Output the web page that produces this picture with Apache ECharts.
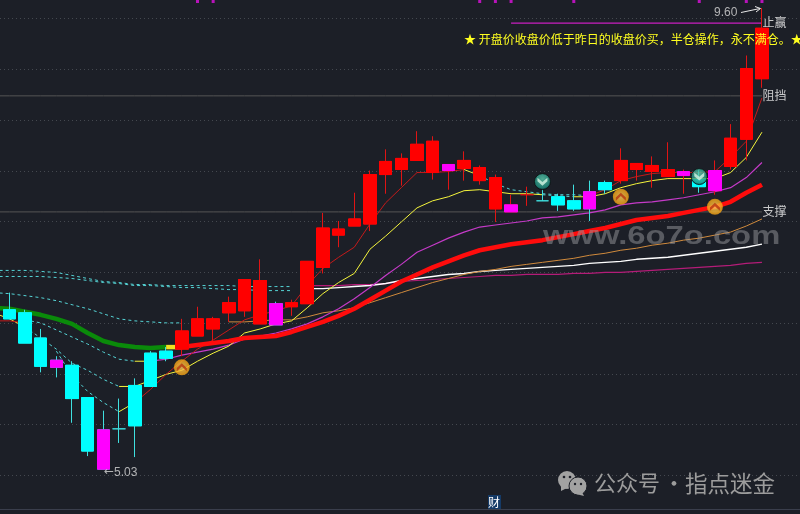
<!DOCTYPE html>
<html><head><meta charset="utf-8">
<style>html,body{margin:0;padding:0;background:#1c1f27;overflow:hidden}#c{width:800px;height:514px}</style>
<script src="https://cdn.jsdelivr.net/npm/echarts@6/dist/echarts.min.js"></script>
</head><body><div id="c"></div>
<script>
// index 0 is a blank lead-in day off the left edge
const pad = n => Array(n).fill(null);
const days = Array.from({length:50},(_,i)=>'D'+i);
const kinds = ['','c','c','c','m','c','c','m','c','c','c','c','r','r','r','r','r','r','m','r','r','r','r','r','r','r','r','r','r','m','r','r','r','m','r','c','c','c','m','c','r','r','r','r','m','c','m','r','r','r'];
const opens  = [null,6.61,6.58,6.33,6.11,6.06,5.74,5.42,5.43,5.86,6.18,6.20,6.22,6.35,6.42,6.58,6.60,6.47,6.67,6.64,6.67,7.03,7.35,7.44,7.46,7.95,8.00,8.09,7.97,8.05,8.01,7.89,7.61,7.65,7.75,7.69,7.73,7.69,7.78,7.87,7.89,8.00,7.98,7.93,7.98,7.90,7.99,8.03,8.30,8.90];
const closes = [null,6.52,6.28,6.05,6.04,5.73,5.21,5.03,5.43,5.46,5.85,6.13,6.40,6.52,6.52,6.68,6.91,6.90,6.46,6.68,7.09,7.42,7.41,7.51,7.95,8.08,8.11,8.25,8.28,7.99,8.09,8.02,7.92,7.58,7.75,7.69,7.65,7.61,7.61,7.80,8.09,8.06,8.04,8.00,7.94,7.83,7.79,8.31,9.00,9.40];
const lows   = [null,6.52,6.28,5.99,5.94,5.49,5.16,5.03,5.29,5.15,5.85,6.10,6.15,6.35,6.30,6.49,6.54,6.47,6.46,6.55,6.67,6.97,7.23,7.44,7.39,7.76,7.84,8.09,7.90,7.80,7.89,7.85,7.48,7.58,7.64,7.69,7.59,7.59,7.49,7.76,7.86,7.89,7.82,7.93,7.76,7.77,7.75,8.00,8.09,8.81];
const highs  = [null,6.78,6.61,6.42,6.15,6.10,5.74,5.61,5.73,5.93,6.20,6.24,6.52,6.64,6.54,6.74,6.91,7.11,6.69,6.71,7.09,7.57,7.49,7.77,7.99,8.20,8.16,8.38,8.33,8.05,8.18,8.04,7.95,7.75,7.83,7.80,7.76,7.85,7.89,7.89,8.21,8.06,8.13,8.27,8.00,8.00,8.09,8.45,9.13,9.60];
const cyanWickDays = [4,7,18,38];

const ma5Start = [6.50,6.50,6.48];
const ma5FallA = [...pad(4),6.20,5.96,5.80,5.69,5.60];
const ma5TurnA = [...pad(8),5.60,5.69];
const ma5RiseA = [...pad(9),5.69,5.82,5.97,6.10,6.22,6.31,6.41,6.51,6.56,6.60,6.65,6.85,7.02,7.13,7.23,7.46,7.67,7.82,7.97,7.97,7.98,8.00];
const ma5TurnB = [...pad(30),8.00,7.94];
const ma5FallB = [...pad(31),7.94,7.86,7.80,7.78,7.76,7.75,7.75,7.74];
const ma5RiseB = [...pad(38),7.74,7.80,7.89,7.93,7.96,7.97,7.97,7.97,7.98,8.12,8.28,8.71];

const ma10Start = [6.58,6.52,6.44];
const ma10FallA = [...pad(2),6.44,6.33,6.22,6.08,6.01,5.92,5.85];
const ma10RiseA = [...pad(8),5.85,5.85,5.91,5.97,6.01,6.10,6.18,6.25,6.38,6.42,6.47,6.50,6.63,6.77,6.88,6.97,7.21,7.34,7.48,7.62,7.69,7.73,7.79,7.80,7.78,7.76,7.76,7.75];
const ma10FallB = [...pad(35),7.75,7.74,7.73];
const ma10RiseB = [...pad(37),7.73,7.73,7.76,7.82,7.86,7.89,7.91,7.91,7.91,7.91,7.97,8.12,8.37];

const ma20Fall = [...pad(2),6.51,6.48,6.41,6.34,6.27,6.19,6.12,6.10];
const ma20Flat = [...pad(9),6.10,6.10];
const ma20Rise = [...pad(10),6.10,6.12,6.16,6.19,6.22,6.26,6.32,6.35,6.38,6.42,6.47,6.54,6.62,6.72,6.83,6.95,7.06,7.18,7.25,7.32,7.38,7.43,7.45,7.47,7.49,7.52,7.53,7.55,7.57,7.60,7.65,7.67,7.68,7.70,7.72,7.75,7.78,7.82,7.92,8.07];

const ma30Fall = [6.63,6.62,6.59,6.56,6.52,6.47,6.38,6.30,6.26,6.24,6.23,6.24];
const ma30Flat = [...pad(11),6.24,6.24];
const ma30Rise = [...pad(12),6.24,6.26,6.28,6.30,6.33,6.34,6.35,6.39,6.44,6.49,6.55,6.62,6.71,6.80,6.89,6.96,7.03,7.09,7.15,7.20,7.23,7.26,7.28,7.30,7.33,7.36,7.39,7.42,7.46,7.50,7.52,7.54,7.57,7.60,7.63,7.68,7.77,7.85];

const ma60Fall = [6.78,6.77,6.75,6.73,6.70,6.66,6.62,6.57,6.52,6.50,6.49,6.48,6.48];
const ma60Rise = [...pad(15),6.49,6.49,6.50,6.51,6.51,6.54,6.58,6.60,6.63,6.68,6.73,6.78,6.83,6.88,6.92,6.96,6.99,7.01,7.04,7.06,7.08,7.10,7.12,7.15,7.17,7.20,7.22,7.25,7.27,7.30,7.32,7.35,7.38,7.44,7.51];

const ma120Fall = [6.94,6.94,6.94,6.94,6.93,6.92,6.90,6.88,6.87,6.85,6.85,6.84,6.83,6.83,6.82,6.81,6.81,6.80,6.80,6.80];
const ma120Rise = [...pad(20),6.82,6.82,6.83,6.84,6.85,6.87,6.90,6.92,6.94,6.96,6.97,6.99,7.00,7.01,7.02,7.03,7.04,7.05,7.07,7.08,7.09,7.11,7.12,7.13,7.15,7.17,7.19,7.21,7.23,7.26];

const ma250Fall = [7.00,7.00,7.00,6.99,6.98,6.95,6.92,6.89,6.88,6.86,6.86,6.85,6.85,6.85,6.85,6.85,6.84,6.84,6.84,6.84];
const ma250Rise = [...pad(20),6.85,6.85,6.85,6.86,6.86,6.87,6.89,6.90,6.91,6.92,6.93,6.94,6.95,6.95,6.96,6.96,6.96,6.97,6.97,6.98,6.98,6.99,7.00,7.01,7.02,7.03,7.04,7.05,7.07,7.08];

const resistLevel = 8.73, supportLevel = 7.58, stopLevel = 9.45, stopFromDay = 33;
const buySignals = [[12,6.04],[40,7.73],[46,7.63]];
const sellSignals = [[35,7.88],[45,7.93]];
const topMarkDays = [13,14,31,32,33,37,45,48,49];
const bannerText = '★ 开盘价收盘价低于昨日的收盘价买，半仓操作，永不满仓。★';

const RED='#ff0000', CY='#00ffff', MG='#ff00ff';
const FONT='"Noto Sans CJK SC","Liberation Sans",sans-serif';
const bodyCol={r:RED,c:CY,m:MG};
const wickCol=i=>{const k=kinds[i]; if(k==='r')return '#e01414'; if(k==='c')return '#3fe0e0'; return cyanWickDays.includes(i)?'#3fe0e0':'#e01414';};
const blank=()=>({value:['-','-','-','-']});

const wickData=days.map((d,i)=>{
  if(opens[i]==null) return blank();
  const c=wickCol(i);
  return {value:[opens[i],closes[i],lows[i],highs[i]],itemStyle:{color:c,color0:c,borderColor:c,borderColor0:c,borderWidth:1}};
});
const bodyData=days.map((d,i)=>{
  if(opens[i]==null||opens[i]===closes[i]) return blank();
  const c=bodyCol[kinds[i]];
  return {value:[opens[i],closes[i],Math.min(opens[i],closes[i]),Math.max(opens[i],closes[i])],itemStyle:{color:c,color0:c,borderColor:c,borderColor0:c,borderWidth:1}};
});

function line(data,color,width,dash,z){
  return {type:'line',data,symbol:'none',z:z||3,silent:true,animation:false,connectNulls:false,
    lineStyle:{color,width,type:dash?[3,3]:'solid',cap:'butt',join:'round'}};
}
const DASH='#55d4d6', YEL='#f5f53c', THIN_RED='#c41a1a', VIO='#c53ac8';
const flat=(v,from)=>days.map((d,i)=>i>=(from||0)?v:null);

const series=[
  line(flat(resistLevel),'#555555',1), line(flat(supportLevel),'#555555',1),
  line(ma250Fall,DASH,1,true), line(ma120Fall,DASH,1,true), line(ma60Fall,DASH,1,true),
  line(ma20Fall,DASH,1,true), line(ma10FallA,DASH,1,true), line(ma5FallA,DASH,1,true),
  line(ma10FallB,DASH,1,true), line(ma5FallB,DASH,1,true),
  line(ma250Rise,'#b41c78',1.2), line(ma120Rise,'#ffffff',1.4), line(ma60Rise,'#d08a3c',1),
  line(ma20Flat,YEL,1), line(ma20Rise,VIO,1.2),
  line(ma10Start,YEL,1), line(ma10RiseA,YEL,1), line(ma10RiseB,YEL,1),
  line(ma5Start,THIN_RED,1), line(ma5TurnA,YEL,1), line(ma5RiseA,THIN_RED,1), line(ma5TurnB,YEL,1), line(ma5RiseB,THIN_RED,1),
  line(flat(stopLevel,stopFromDay),'#c81fc0',1.2),
  line(ma30Fall,'#0a8a0a',4.5,false,4), line(ma30Flat,'#f0e020',4.5,false,4), line(ma30Rise,'#ff0c0c',4.5,false,4),
  {type:'candlestick',data:wickData,barWidth:13,z:6,silent:true,animation:false},
  {type:'candlestick',data:bodyData,barWidth:13,z:7,silent:true,animation:false},
  {type:'scatter',data:topMarkDays.map(d=>[d,9.68]),symbol:'rect',symbolSize:[3,6],itemStyle:{color:'#e010e0'},z:8,silent:true,animation:false,clip:false},
  {type:'scatter',data:buySignals,symbol:'circle',symbolSize:16,z:9,silent:true,animation:false,
    itemStyle:{color:{type:'radial',x:.5,y:.5,r:.55,colorStops:[{offset:0,color:'#ffd060'},{offset:.8,color:'#f8a818'},{offset:1,color:'#d88810'}]}}},
  {type:'scatter',data:buySignals,symbol:'path://M0 10 L10 0 L20 10 L20 17 L10 7 L0 17 Z',symbolSize:[10,8],z:10,silent:true,animation:false,itemStyle:{color:'#b5330f'}},
  {type:'scatter',data:sellSignals,symbol:'circle',symbolSize:16,z:9,silent:true,animation:false,
    itemStyle:{color:{type:'radial',x:.5,y:.35,r:.6,colorStops:[{offset:0,color:'#5fd0b0'},{offset:.85,color:'#1f8f80'},{offset:1,color:'#0c4a48'}]},borderColor:'#0a0c0e',borderWidth:1}},
  {type:'scatter',data:sellSignals,symbol:'path://M0 0 L10 8 L20 0 L20 7 L10 15 L0 7 Z',symbolSize:[10,8],z:10,silent:true,animation:false,itemStyle:{color:'#d6f5e4'}},
  {type:'scatter',symbolSize:1,itemStyle:{color:'transparent'},z:12,silent:true,animation:false,clip:false,
   data:[
    {value:[49,9.46],label:{show:true,position:'right',distance:0,formatter:'止赢',color:'#f4f4f4',fontSize:12,fontFamily:FONT}},
    {value:[49,8.73],label:{show:true,position:'right',distance:0,formatter:'阻挡',color:'#f4f4f4',fontSize:12,fontFamily:FONT}},
    {value:[49,7.58],label:{show:true,position:'right',distance:0,formatter:'支撑',color:'#f4f4f4',fontSize:12,fontFamily:FONT}},
    {value:[7,5.00],label:{show:true,position:'right',distance:0,formatter:'{a|←}{b|5.03}',rich:{a:{color:'#d8d8d8',fontSize:12,fontFamily:'"DejaVu Sans"'},b:{color:'#d8d8d8',fontSize:12,fontFamily:'"Liberation Sans",sans-serif'}}}},
    {value:[49,9.55],label:{show:true,position:'left',distance:24,formatter:'9.60',color:'#d8d8d8',fontSize:12,fontFamily:'"Liberation Sans",sans-serif'}}
   ]}
];

const option={
  backgroundColor:'#1c1f27',animation:false,
  grid:[
    {left:-14.2,right:30.2,top:0,bottom:0,outerBoundsMode:'none'},
    {left:0,right:0,top:18.5,height:457,outerBoundsMode:'none'}
  ],
  xAxis:[
    {type:'category',data:days,gridIndex:0,show:false,boundaryGap:true},
    {type:'value',gridIndex:1,show:false,min:0,max:1}
  ],
  yAxis:[
    {type:'value',gridIndex:0,min:4.586,max:9.68,show:false},
    {type:'value',gridIndex:1,min:5,max:9.5,interval:0.5,axisLine:{show:false},axisTick:{show:false},axisLabel:{show:false},
      splitLine:{show:true,lineStyle:{color:'#44484f',width:1,type:[1,3]}}}
  ],
  series,
  graphic:[
    {type:'text',z:20,style:{text:bannerText,x:464,y:39,verticalAlign:'middle',font:'12px '+FONT,fill:'#ffff20'}},
    {type:'line',z:1,shape:{x1:0,y1:509.5,x2:800,y2:509.5},style:{stroke:'#3a3e4c',lineWidth:1}},
    {type:'polyline',z:20,shape:{points:[[741,12.5],[760,8.5]]},style:{stroke:'#e8e8e8',lineWidth:1,fill:null}},
    {type:'polyline',z:20,shape:{points:[[755,6.5],[760.5,8.5],[756,12]]},style:{stroke:'#e8e8e8',lineWidth:1,fill:null}},
    {type:'text',z:15,x:543,y:237,scaleX:1.26,style:{text:'www.6o7o.com',x:0,y:0,verticalAlign:'middle',font:'bold 26px "Liberation Sans",sans-serif',fill:'rgba(150,152,156,0.5)'}},
    {type:'rect',z:18,shape:{x:488,y:495,width:13,height:14},style:{fill:'#153a66'}},
    {type:'text',z:20,style:{text:'财',x:488,y:502,verticalAlign:'middle',font:'12px '+FONT,fill:'#ffffff'}},
    {type:'circle',z:20,shape:{cx:567,cy:480,r:9},style:{fill:'#a2a2a2'}},
    {type:'polygon',z:20,shape:{points:[[561,486],[561,491],[567,488]]},style:{fill:'#a2a2a2'}},
    {type:'circle',z:21,shape:{cx:578,cy:486,r:9},style:{fill:'#a2a2a2',stroke:'#1c1f27',lineWidth:1}},
    {type:'polygon',z:21,shape:{points:[[582,492],[584,496],[576,494]]},style:{fill:'#a2a2a2'}},
    {type:'circle',z:22,shape:{cx:564,cy:477,r:1.3},style:{fill:'#1c1f27'}},
    {type:'circle',z:22,shape:{cx:570,cy:477,r:1.3},style:{fill:'#1c1f27'}},
    {type:'circle',z:22,shape:{cx:575,cy:484,r:1.2},style:{fill:'#1c1f27'}},
    {type:'circle',z:22,shape:{cx:581,cy:484,r:1.2},style:{fill:'#1c1f27'}},
    {type:'text',z:20,style:{text:'公众号',x:594,y:483,verticalAlign:'middle',font:'22px '+FONT,fill:'#9c9c9c'}},
    {type:'text',z:20,style:{text:'·',x:663,y:483,verticalAlign:'middle',font:'22px '+FONT,fill:'#9c9c9c'}},
    {type:'text',z:20,style:{text:'指点迷金',x:685,y:483,verticalAlign:'middle',font:'22.5px '+FONT,fill:'#9c9c9c'}}
  ]
};
const chart=echarts.init(document.getElementById('c'),null,{renderer:'canvas',width:800,height:514});
chart.setOption(option);
</script></body></html>
